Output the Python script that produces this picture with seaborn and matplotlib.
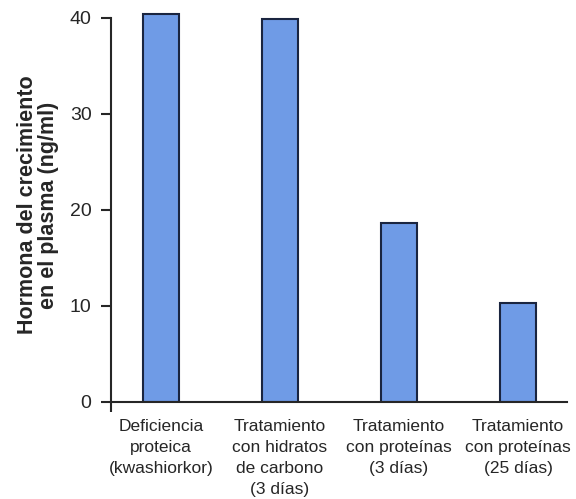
import pandas as pd
import seaborn as sns
import matplotlib.pyplot as plt

# valores (ng/ml)
grupos = ["Deficiencia\nproteica\n(kwashiorkor)",
          "Tratamiento\ncon hidratos\nde carbono\n(3 días)",
          "Tratamiento\ncon proteínas\n(3 días)",
          "Tratamiento\ncon proteínas\n(25 días)"]
hormona = [40.4, 39.9, 18.6, 10.3]
yticks = [0, 10, 20, 30, 40]

df = pd.DataFrame({"grupo": grupos, "hormona": hormona})

sns.set_style("ticks")
plt.rcParams["font.family"] = ["Liberation Sans", "DejaVu Sans"]

fig = plt.figure(figsize=(5.76, 4.99), dpi=100)
ax = fig.add_axes([0.1927, 0.1944, 0.7913, 0.789])

sns.barplot(data=df, x="grupo", y="hormona", color="#6f9be6", saturation=1,
            edgecolor="#1a2540", linewidth=1.5, width=0.3, ax=ax)

ax.set_xlim(-0.42, 3.41)
ax.set_ylim(0, 41)
ax.set_yticks(yticks)
ax.spines["left"].set_bounds(0, 40)
ax.spines["left"].set_linewidth(1.5)
ax.spines["bottom"].set_linewidth(1.5)
sns.despine(ax=ax)

# pequeña marca bajo el origen
ax.set_xticks([-0.42], minor=True)
ax.tick_params(axis="x", which="minor", length=7, width=1.5)

ax.tick_params(axis="y", length=7, width=1.5, labelsize=14, pad=7)
ax.tick_params(axis="x", which="major", length=0, labelsize=12.5, pad=12)
for t in ax.get_xticklabels():
    t.set_linespacing(1.5)
    t.set_va("top")

ax.set_xlabel("")
ax.set_ylabel("Hormona del crecimiento\nen el plasma (ng/ml)",
              fontsize=15.5, fontweight="bold", labelpad=8, linespacing=1.0)

plt.savefig("out.png", dpi=100)
